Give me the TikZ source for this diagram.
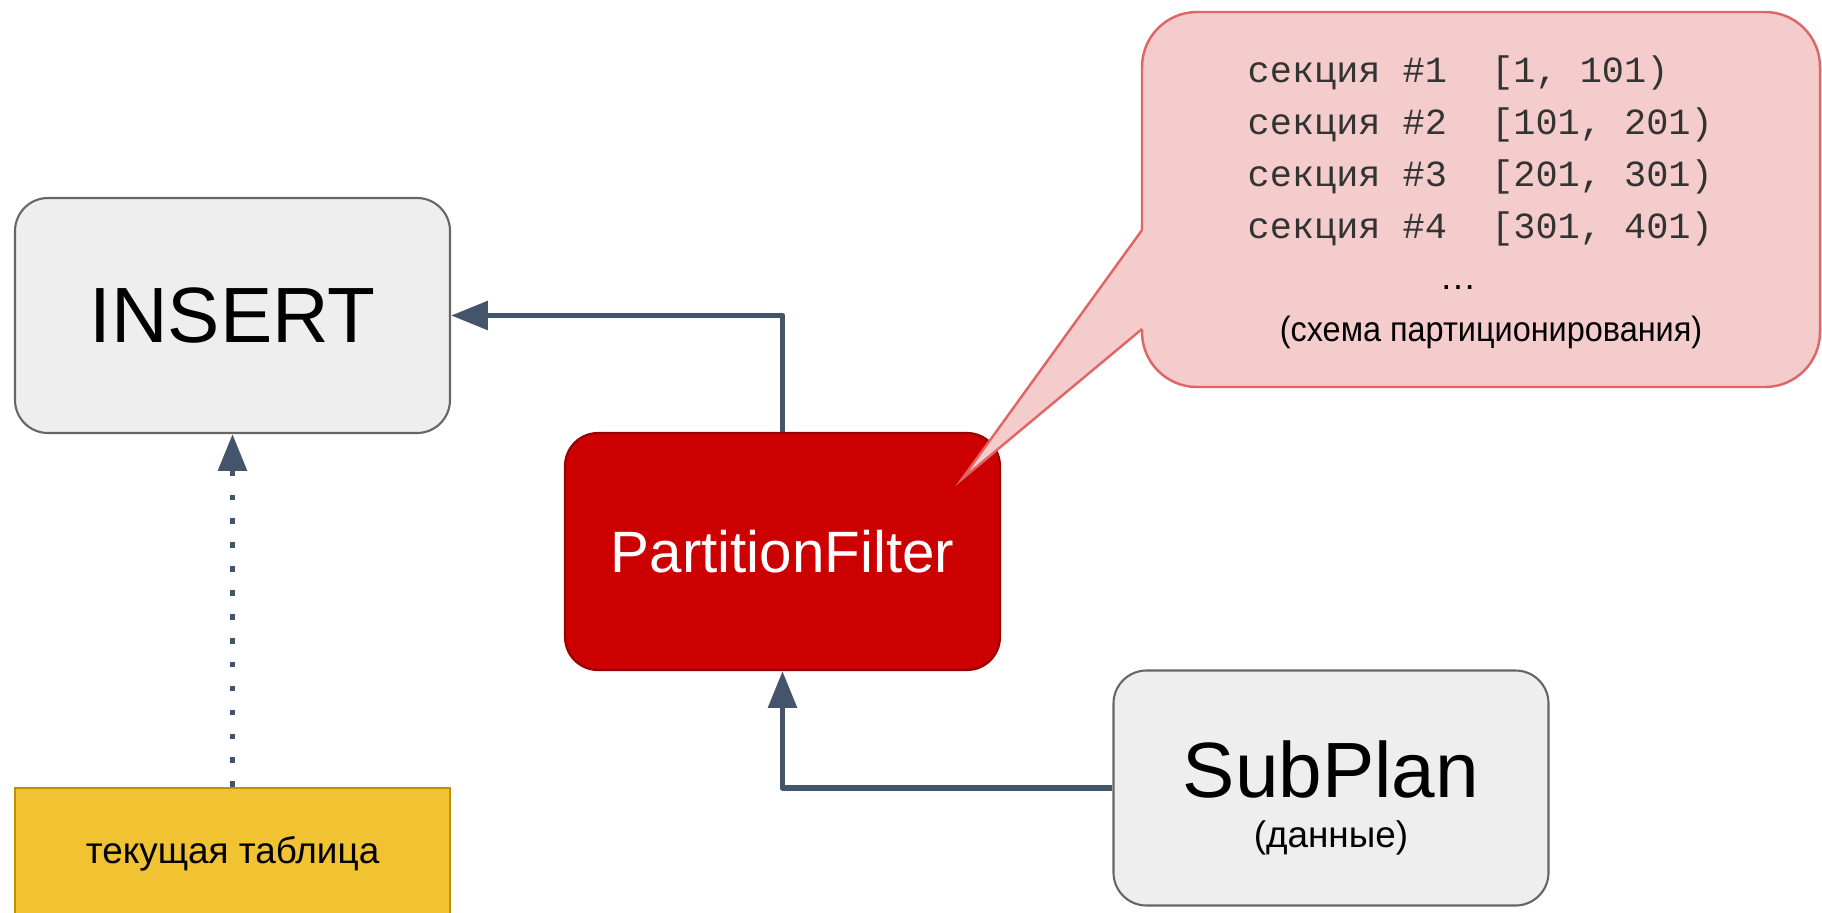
\documentclass[tikz,border=0pt]{standalone}
\usepackage{fontspec}
\usepackage{graphicx}
\setmainfont{Liberation Sans}
\setmonofont{Liberation Mono}
\usetikzlibrary{arrows.meta}

\definecolor{boxgray}{HTML}{EEEEEE}
\definecolor{edgegray}{HTML}{666666}
\definecolor{pfred}{HTML}{CC0000}
\definecolor{pfedge}{HTML}{990000}
\definecolor{tableyellow}{HTML}{F1C232}
\definecolor{tableedge}{HTML}{BF9000}
\definecolor{notepink}{HTML}{F4CCCC}
\definecolor{noteedge}{HTML}{E06666}
\definecolor{flowblue}{HTML}{44546A}

\tikzset{
  opbox/.style={draw=edgegray, fill=boxgray, line width=0.6pt, rounded corners=0.33cm,
    minimum width=4.35cm, minimum height=2.35cm, inner sep=0pt},
  filterbox/.style={draw=pfedge, fill=pfred, text=white, line width=0.6pt, rounded corners=0.33cm,
    minimum width=4.35cm, minimum height=2.37cm, inner sep=0pt, font=\fontsize{16.6}{20}\selectfont},
  tablebox/.style={draw=tableedge, fill=tableyellow, line width=0.6pt,
    minimum width=4.35cm, minimum height=1.32cm, inner sep=0pt, font=\fontsize{10.5}{12.6}\selectfont},
  notebox/.style={draw=noteedge, fill=notepink, line width=0.7pt, rounded corners=0.55cm,
    minimum width=6.78cm, minimum height=3.75cm, inner sep=0pt},
  bigtext/.style={inner sep=0pt, font=\fontsize{22.3}{26}\selectfont},
  smalltext/.style={inner sep=0pt, font=\fontsize{10.5}{12.6}\selectfont},
  rangetext/.style={inner sep=0pt, anchor=base west, text=black!80, font=\ttfamily\fontsize{10.5}{12.6}\selectfont},
  flow/.style={draw=flowblue, line width=1.6pt, line join=round, -{Triangle[length=10.5pt, width=8pt]}},
  dotflow/.style={flow, dash pattern=on 1.6pt off 5.2pt}
}

\begin{document}
\begin{tikzpicture}
\useasboundingbox (0,0) rectangle (18.22,-9.12);
\clip (0,0) rectangle (18.22,-9.12);

% operators
\node[opbox, bigtext] (insert) at (2.325,-3.155) {INSERT};
\node[filterbox] (pf) at (7.825,-5.515) {PartitionFilter};
\node[opbox] (subplan) at (13.31,-7.88) {};
\node[bigtext, anchor=base] (subplanname) at (13.31,-7.97) {SubPlan};
\node[smalltext, anchor=base] (subplandata) at (13.31,-8.47) {(данные)};
\node[tablebox] (table) at (2.325,-8.54) {текущая таблица};

\draw[flow] (pf.north) |- (insert.east);
\draw[flow] (subplan.west) -| (pf.south);
\draw[dotflow] (table.north) -- (insert.south);

% note with the partition scheme
\node[notebox] (note) at (14.81,-1.995) {};
\coordinate (tip) at (9.62,-4.79);
\fill[notepink] (tip) -- (11.42,-2.30) -- (11.50,-2.30) -- (11.50,-3.29) -- (11.42,-3.29) -- cycle;
\draw[noteedge, line width=0.7pt] (11.42,-2.30) -- (tip) -- (11.42,-3.29);

\node[rangetext] (r1) at (12.47,-0.82) {секция \#1 \ [1, 101)};
\node[rangetext] (r2) at (12.47,-1.34) {секция \#2 \ [101, 201)};
\node[rangetext] (r3) at (12.47,-1.86) {секция \#3 \ [201, 301)};
\node[rangetext] (r4) at (12.47,-2.38) {секция \#4 \ [301, 401)};
\node[smalltext, anchor=base] (dots) at (14.58,-2.89) {…};
\node[smalltext, font=\fontsize{10}{12}\selectfont] (caption) at (14.91,-3.32)
  {\scalebox{0.923}[1]{(схема партиционирования)}};

\end{tikzpicture}
\end{document}
